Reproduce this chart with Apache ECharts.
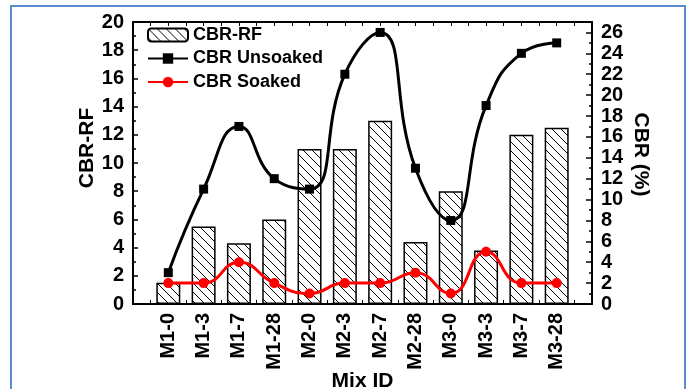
<!DOCTYPE html>
<html><head><meta charset="utf-8">
<script src="https://cdn.jsdelivr.net/npm/echarts@6/dist/echarts.min.js"></script>
<style>html,body{margin:0;padding:0;background:#fff}#c{width:691px;height:389px}</style>
</head><body><div id="c"></div>
<script>
const categories = ['M1-0','M1-3','M1-7','M1-28','M2-0','M2-3','M2-7','M2-28','M3-0','M3-3','M3-7','M3-28'];
const cbrRF = [1.5, 5.5, 4.3, 6.0, 11, 11, 13, 4.4, 8, 3.8, 12, 12.5];
const cbrUnsoaked = [3, 11, 17, 12, 11, 22, 26, 13, 8, 19, 24, 25];
const cbrSoaked = [2, 2, 4, 2, 1, 2, 2, 3, 1, 5, 2, 2];
const leftAxisRange = {min: 0, max: 20, interval: 2};
const rightAxisRange = {min: 0, max: 27, interval: 2};

const FONT = "'Liberation Sans', Arial, sans-serif";

function hatch() {
  const s = 9, c = document.createElement('canvas');
  c.width = s; c.height = s;
  const g = c.getContext('2d');
  g.fillStyle = '#fff'; g.fillRect(0, 0, s, s);
  g.strokeStyle = '#000'; g.lineWidth = 1;
  g.beginPath();
  g.moveTo(-1, -1); g.lineTo(s + 1, s + 1);
  g.moveTo(-1, s - 1); g.lineTo(1, s + 1);
  g.moveTo(s - 1, -1); g.lineTo(s + 1, 1);
  g.stroke();
  return c;
}

const pos = (arr) => arr.map((v, i) => [i + 1, v]);

const axisLine = {show: true, onZero: false, lineStyle: {color: '#000', width: 2}};
const labelStyle = {color: '#000', fontFamily: FONT, fontWeight: 'bold', fontSize: 20};
const nameStyle = {color: '#000', fontFamily: FONT, fontWeight: 'bold', fontSize: 21};

const chart = echarts.init(document.getElementById('c'), null, {renderer: 'canvas'});
chart.setOption({
  animation: false,
  backgroundColor: '#fff',
  graphic: [{
    type: 'rect', silent: true,
    shape: {x: 11, y: 6, width: 674, height: 420},
    style: {fill: 'none', stroke: '#5b8bd0', lineWidth: 2}
  }],
  grid: {left: 133, right: 99, top: 22, bottom: 85, containLabel: false, outerBoundsMode: 'none'},
  legend: {
    orient: 'vertical', left: 142, top: 21,
    itemWidth: 40, itemHeight: 13, itemGap: 5.5,
    textStyle: {color: '#000', fontFamily: FONT, fontWeight: 'bold', fontSize: 18, lineHeight: 18},
    data: ['CBR-RF', 'CBR Unsoaked', 'CBR Soaked']
  },
  xAxis: [{
    type: 'value', position: 'bottom', min: 0, max: categories.length + 1, interval: 0.5,
    axisLine: axisLine,
    axisTick: {show: true, inside: true, length: 4, lineStyle: {color: '#000', width: 1}},
    splitLine: {show: false},
    axisLabel: Object.assign({rotate: 90, margin: 9,
      formatter: v => (Number.isInteger(v) && v >= 1 && v <= categories.length) ? categories[v - 1] : ''}, labelStyle),
    name: 'Mix ID', nameLocation: 'middle', nameGap: 67, nameMoveOverlap: false, nameTextStyle: nameStyle
  }, {
    type: 'value', position: 'top', min: 0, max: categories.length + 1, interval: 0.5,
    axisLine: axisLine,
    axisTick: {show: true, inside: true, length: 4, lineStyle: {color: '#000', width: 1}},
    splitLine: {show: false}, axisLabel: {show: false}
  }],
  yAxis: [{
    type: 'value', position: 'left', min: leftAxisRange.min, max: leftAxisRange.max, interval: leftAxisRange.interval,
    axisLine: axisLine,
    axisTick: {show: true, inside: true, length: 5, lineStyle: {color: '#000', width: 1.5}},
    minorTick: {show: true, splitNumber: 2, length: 3, lineStyle: {color: '#000', width: 1.5}},
    splitLine: {show: false},
    axisLabel: Object.assign({margin: 9}, labelStyle),
    name: 'CBR-RF', nameLocation: 'middle', nameGap: 35, nameMoveOverlap: false,
    nameTextStyle: Object.assign({padding: [0, 0, 0, 30]}, nameStyle)
  }, {
    type: 'value', position: 'right', min: rightAxisRange.min, max: rightAxisRange.max, interval: rightAxisRange.interval,
    axisLine: axisLine,
    axisTick: {show: true, inside: true, length: 6, lineStyle: {color: '#000', width: 1.5}},
    minorTick: {show: true, splitNumber: 2, length: 3, lineStyle: {color: '#000', width: 1.5}},
    splitLine: {show: false},
    axisLabel: Object.assign({margin: 9, formatter: v => (v % 2 === 0 ? String(v) : '')}, labelStyle),
    name: 'CBR (%)', nameLocation: 'middle', nameGap: 38, nameRotate: -90, nameMoveOverlap: false,
    nameTextStyle: Object.assign({padding: [0, 17, 0, 0]}, nameStyle)
  }],
  series: [{
    name: 'CBR-RF', type: 'bar', xAxisIndex: 0, yAxisIndex: 0,
    barWidth: 24,
    itemStyle: {color: {image: hatch(), repeat: 'repeat'}, borderColor: '#000', borderWidth: 1.5},
    data: pos(cbrRF), z: 2
  }, {
    name: 'CBR Unsoaked', type: 'line', xAxisIndex: 0, yAxisIndex: 1,
    smooth: 0.5, symbol: 'rect', symbolSize: 9, showSymbol: true,
    lineStyle: {color: '#000', width: 3}, itemStyle: {color: '#000'},
    data: pos(cbrUnsoaked), z: 3
  }, {
    name: 'CBR Soaked', type: 'line', xAxisIndex: 0, yAxisIndex: 1,
    smooth: 0.5, symbol: 'circle', symbolSize: 10, showSymbol: true,
    lineStyle: {color: '#ff0000', width: 3}, itemStyle: {color: '#ff0000'},
    data: pos(cbrSoaked), z: 4
  }]
});
</script>
</body></html>
